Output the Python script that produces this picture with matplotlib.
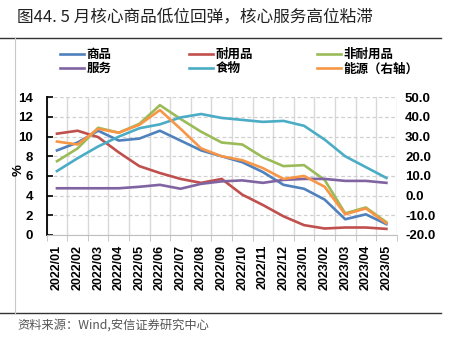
import numpy as np
import matplotlib
matplotlib.use("Agg")
import matplotlib.pyplot as plt
from matplotlib.ticker import FixedLocator, FormatStrFormatter

plt.rcParams['font.family'] = ['Liberation Sans', 'Noto Sans CJK SC', 'DejaVu Sans']

# Data
months = ["2022/01", "2022/02", "2022/03", "2022/04", "2022/05", "2022/06",
          "2022/07", "2022/08", "2022/09", "2022/10", "2022/11", "2022/12",
          "2023/01", "2023/02", "2023/03", "2023/04", "2023/05"]
goods = [8.6, 9.4, 10.6, 9.6, 9.8, 10.6, 9.6, 8.6, 8.0, 7.4, 6.4, 5.1, 4.7, 3.6, 1.6, 2.1, 1.1]
durables = [10.3, 10.6, 9.95, 8.4, 7.0, 6.3, 5.7, 5.3, 5.7, 4.1, 3.05, 1.9, 1.0, 0.66, 0.76, 0.76, 0.62]
nondurables = [7.5, 8.8, 10.9, 10.4, 11.3, 13.2, 11.8, 10.5, 9.4, 9.2, 7.9, 7.0, 7.1, 5.6, 2.2, 2.8, 1.3]
services = [4.75, 4.75, 4.75, 4.75, 4.9, 5.1, 4.7, 5.2, 5.45, 5.55, 5.3, 5.6, 5.7, 5.7, 5.5, 5.5, 5.3]
food = [6.5, 7.8, 9.0, 10.0, 10.85, 11.25, 11.95, 12.3, 11.9, 11.7, 11.5, 11.6, 11.1, 9.7, 8.0, 6.9, 5.8]
energy = [27.5, 26.0, 34.0, 32.0, 36.0, 43.5, 34.0, 24.0, 20.0, 18.0, 14.0, 8.5, 10.0, 4.5, -9.5, -6.5, -14.0]

x = np.arange(len(months))
lw = 1.9

fig = plt.figure(figsize=(4.51, 3.41), dpi=100)
ax = fig.add_axes([0.1035, 0.3109, 0.7761, 0.4038])
ax2 = ax.twinx()

l1, = ax.plot(x, goods, color="#4F81BD", lw=lw, label="商品")
l2, = ax.plot(x, durables, color="#C0504D", lw=lw, label="耐用品")
l3, = ax.plot(x, nondurables, color="#9BBB59", lw=lw, label="非耐用品")
l4, = ax.plot(x, services, color="#8064A2", lw=lw, label="服务")
l5, = ax.plot(x, food, color="#4BACC6", lw=lw, label="食物")
l6, = ax2.plot(x, energy, color="#F79646", lw=lw, label="能源（右轴）")

# left axis
ax.set_xlim(-0.5, len(months) - 0.5)
ax.set_ylim(0, 14)
ax.set_yticks(np.arange(0, 15, 2))
ax.tick_params(axis="y", direction="in", length=4, width=1.2, pad=10, labelsize=9.5)
for t in ax.get_yticklabels():
    t.set_fontweight("bold")
ax.grid(axis="y", color="#d0d0d0", linestyle=(0, (3, 2)), lw=0.9)

# x axis: labels at centres, grid and ticks at boundaries
ax.set_xticks(x)
ax.set_xticklabels(months, rotation=90, fontsize=9, fontweight="bold")
ax.tick_params(axis="x", length=0, pad=7)
ax.xaxis.set_minor_locator(FixedLocator(np.arange(-0.5, len(months), 1.0)))
ax.tick_params(axis="x", which="minor", length=4, color="#bfbfbf", direction="out")
ax.grid(axis="x", which="minor", color="#d9d9d9", linestyle="-", lw=1.0)

for s in ["top", "right"]:
    ax.spines[s].set_visible(False)
ax.spines["left"].set_linewidth(1.3)
ax.spines["bottom"].set_color("#bfbfbf")

# right axis
ax2.set_ylim(-20, 50)
ax2.set_yticks(np.arange(-20, 51, 10))
ax2.yaxis.set_major_formatter(FormatStrFormatter("%.1f"))
ax2.tick_params(axis="y", length=0, pad=6, labelsize=9.5)
for t in ax2.get_yticklabels():
    t.set_fontweight("bold")
for s in ["top", "right", "left", "bottom"]:
    ax2.spines[s].set_visible(False)

fig.text(19 / 451, 1 - 170 / 341, "%", rotation=90, fontsize=9.5, fontweight="bold",
         ha="center", va="center")

# legend: three columns of two rows
cols = [([l1, l4], 60), ([l2, l5], 189), ([l3, l6], 317)]
for handles, px in cols:
    leg = fig.legend(handles=handles, loc="upper left", bbox_to_anchor=(px / 451, 1 - 48 / 341),
                     frameon=False, handlelength=1.9, handletextpad=0.2, labelspacing=0.1,
                     borderaxespad=0, borderpad=0,
                     prop={"family": ["Noto Sans CJK SC"], "size": 9, "weight": "bold"})

# title, frame lines and source
fig.text(17 / 451, 1 - 18 / 341, "图44. 5 月核心商品低位回弹，核心服务高位粘滞",
         fontsize=12, color="#222222", ha="left", va="center",
         family=["Noto Sans CJK SC"])
fig.add_artist(plt.Line2D([0.0, 0.977], [1 - 38 / 341, 1 - 38 / 341], color="#333333", lw=1.0))
fig.add_artist(plt.Line2D([0.0, 0.977], [1 - 313 / 341, 1 - 313 / 341], color="#333333", lw=1.0))
fig.add_artist(plt.Line2D([15 / 451, 15 / 451], [1 - 38 / 341, 1 - 313 / 341], color="#c8c8c8", lw=0.8))
fig.text(17 / 451, 1 - 325 / 341, "资料来源：Wind,安信证券研究中心", fontsize=8.8,
         color="#555555", ha="left", va="center", style="italic",
         family=["Noto Sans CJK SC"])

fig.savefig("out.png", dpi=100)
